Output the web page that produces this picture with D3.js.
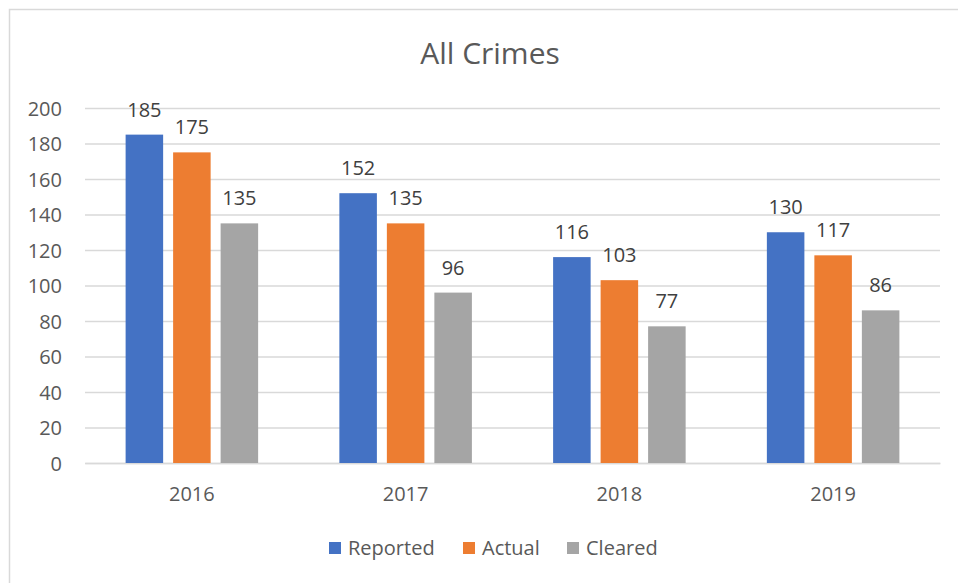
<!DOCTYPE html>
<html><head><meta charset="utf-8">
<script src="https://cdn.jsdelivr.net/npm/d3@7/dist/d3.min.js"></script>
<style>body{margin:0;background:#fff}svg{display:block}text{font-family:"Open Sans","Noto Sans",sans-serif}</style>
</head><body><svg id="c" width="958" height="583"></svg>
<script>
const categories = ["2016","2017","2018","2019"];
const seriesNames = ["Reported","Actual","Cleared"];
const reported = [185,152,116,130];
const actual = [175,135,103,117];
const cleared = [135,96,77,86];
const yTicks = [0,20,40,60,80,100,120,140,160,180,200];
const colors = ["#4472C4","#ED7D31","#A5A5A5"];
const values = [reported, actual, cleared];

const svg = d3.select("#c");
svg.append("rect").attr("x",9.5).attr("y",9.5).attr("width",960).attr("height",600)
  .attr("fill","#fff").attr("stroke","#d9d9d9").attr("stroke-width",1.5);

const L=85, R=940, T=108, B=463;
const y = d3.scaleLinear().domain([0,200]).range([B,T]);
const x0 = d3.scaleBand().domain(categories).range([L,R]).paddingInner(0.38).paddingOuter(0.19);
const x1 = d3.scaleBand().domain(seriesNames).range([0,x0.bandwidth()]).paddingInner(0.21);

svg.append("text").attr("x",490).attr("y",64).attr("text-anchor","middle")
  .attr("font-size",30).attr("fill","#595959").text("All Crimes");

const yAxis = d3.axisLeft(y).tickValues(yTicks).tickSize(-(R-L)).tickPadding(23);
const gy = svg.append("g").attr("transform",`translate(${L},0)`).call(yAxis);
gy.select(".domain").remove();
gy.selectAll(".tick line").attr("stroke","#d9d9d9").attr("stroke-width",1.5);
gy.selectAll(".tick text").attr("font-size",20).attr("fill","#595959").attr("dy",0).attr("y",7);

const xAxis = d3.axisBottom(x0).tickSize(0);
const gx = svg.append("g").attr("transform",`translate(0,${B})`).call(xAxis);
gx.select(".domain").attr("stroke","#d9d9d9").attr("stroke-width",1.5);
gx.selectAll(".tick text").attr("font-size",20).attr("fill","#595959").attr("dy",0).attr("y",38);

const groups = svg.append("g").selectAll("g").data(categories).join("g")
  .attr("transform",d=>`translate(${x0(d)},0)`);
seriesNames.forEach((s,si)=>{
  groups.append("rect").attr("x",x1(s)).attr("width",x1.bandwidth())
    .attr("y",(d,i)=>y(values[si][i])).attr("height",(d,i)=>B-y(values[si][i]))
    .attr("fill",colors[si]);
  groups.append("text").attr("x",x1(s)+x1.bandwidth()/2).attr("y",(d,i)=>y(values[si][i])-18)
    .attr("text-anchor","middle").attr("font-size",20).attr("fill","#404040")
    .text((d,i)=>values[si][i]);
});

const legX = [329,463,567];
const lg = svg.append("g");
seriesNames.forEach((s,i)=>{
  lg.append("rect").attr("x",legX[i]).attr("y",542).attr("width",12).attr("height",12).attr("fill",colors[i]);
  lg.append("text").attr("x",legX[i]+19).attr("y",555).attr("font-size",20).attr("fill","#595959").text(s);
});
</script></body></html>
